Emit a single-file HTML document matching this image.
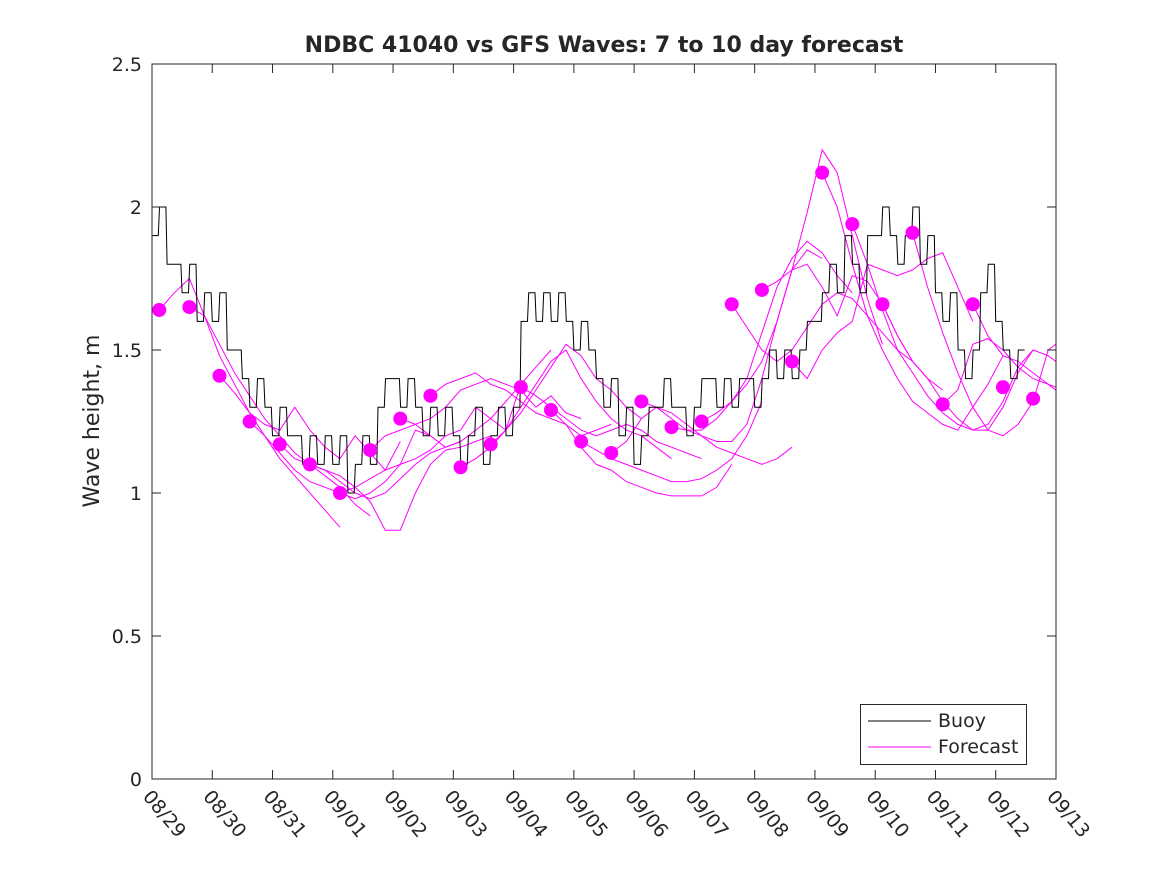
<!DOCTYPE html>
<html><head><meta charset="utf-8"><style>
body{margin:0;background:#fff;}
svg text{font-family:"DejaVu Sans","Liberation Sans",sans-serif;fill:#262626;}
</style></head><body>
<svg id="chart" width="1167" height="875" viewBox="0 0 1167 875" xmlns="http://www.w3.org/2000/svg">
<rect x="0" y="0" width="1167" height="875" fill="#fff"/>
<text x="604" y="52" text-anchor="middle" font-size="22" font-weight="bold" fill="#000">NDBC 41040 vs GFS Waves: 7 to 10 day forecast</text>
<text transform="translate(99,421) rotate(-90)" text-anchor="middle" font-size="22">Wave height, m</text>
<defs><clipPath id="plotclip"><rect x="152" y="64" width="904" height="715"/></clipPath></defs>
<g id="forecasts" clip-path="url(#plotclip)"></g>
<g id="buoy" clip-path="url(#plotclip)"></g>
<g id="dots"></g>
<rect x="152" y="64" width="904" height="715" fill="none" stroke="#262626" stroke-width="1"/>
<g id="axes"></g>
<g>
<rect x="860.5" y="704.5" width="166" height="60" fill="#fff" stroke="#262626"/>
<line x1="868" y1="721" x2="931" y2="721" stroke="#000"/>
<text x="938" y="727" font-size="19">Buoy</text>
<line x1="868" y1="747" x2="931" y2="747" stroke="#ff00ff"/>
<text x="938" y="753" font-size="19">Forecast</text>
</g>
</svg>
<script>
const xTickLabels=["08/29","08/30","08/31","09/01","09/02","09/03","09/04","09/05","09/06","09/07","09/08","09/09","09/10","09/11","09/12","09/13"];
const yTickValues=[0,0.5,1,1.5,2,2.5];
const yTickLabels=["0","0.5","1","1.5","2","2.5"];
// buoy: 3-hourly from 08/29 00Z
const buoyValues=[
1.9,2.0,1.8,1.8,1.7,1.8,1.6,1.7,
1.6,1.7,1.5,1.5,1.4,1.3,1.4,1.3,
1.2,1.3,1.2,1.2,1.1,1.2,1.1,1.2,
1.1,1.2,1.0,1.1,1.2,1.1,1.3,1.4,
1.4,1.3,1.4,1.3,1.2,1.3,1.2,1.3,
1.2,1.1,1.2,1.3,1.1,1.2,1.3,1.2,
1.3,1.6,1.7,1.6,1.7,1.6,1.7,1.6,
1.5,1.6,1.5,1.4,1.3,1.4,1.2,1.3,
1.1,1.2,1.3,1.3,1.4,1.3,1.3,1.2,
1.3,1.4,1.4,1.3,1.4,1.3,1.4,1.4,
1.3,1.4,1.5,1.4,1.5,1.4,1.5,1.6,
1.6,1.7,1.8,1.7,1.9,1.8,1.7,1.9,
1.9,2.0,1.9,1.8,1.9,2.0,1.8,1.9,
1.7,1.6,1.7,1.5,1.4,1.5,1.7,1.8,
1.6,1.5,1.4,1.5];
const dotDays=[0.12,0.62,1.12,1.62,2.12,2.62,3.12,3.62,4.12,4.62,5.12,5.62,6.12,6.62,7.12,7.62,8.12,8.62,9.12,9.62,10.12,10.62,11.12,11.62,12.12,12.62,13.12,13.62,14.12,14.62];
const dotValues=[1.64,1.65,1.41,1.25,1.17,1.10,1.00,1.15,1.26,1.34,1.09,1.17,1.37,1.29,1.18,1.14,1.32,1.23,1.25,1.66,1.71,1.46,2.12,1.94,1.66,1.91,1.31,1.66,1.37,1.33];
const fcStart=[0.12,0.62,1.12,1.62,2.12,2.62,3.12,3.62,4.12,4.62,5.12,5.62,6.12,6.62,7.12,7.62,8.12,8.62,9.12,9.62,10.12,10.62,11.12,11.62,12.12,12.62,13.12,13.62];
const fc1=[1.64,1.70,1.75,1.62,1.48,1.38,1.28,1.20,1.12,1.06,1.00,0.94,0.88];
const fc2=[1.65,1.62,1.52,1.42,1.34,1.26,1.20,1.14,1.10,1.06,1.02,0.96,0.92];
const fc3=[1.41,1.35,1.28,1.24,1.22,1.30,1.22,1.16,1.12,1.20,1.14,1.08,1.18];
const fc4=[1.25,1.20,1.14,1.08,1.04,1.02,1.00,0.98,1.00,1.04,1.10,1.22,1.20];
const fc5=[1.17,1.12,1.10,1.08,1.04,1.00,0.98,1.00,1.05,1.10,1.14,1.16,1.18];
const fc6=[1.10,1.08,1.06,1.02,0.97,0.87,0.87,1.00,1.10,1.15,1.16,1.18,1.20];
const fc7=[1.00,1.02,1.05,1.08,1.10,1.12,1.15,1.20,1.22,1.30,1.26,1.22,1.38];
const fc8=[1.15,1.20,1.22,1.24,1.20,1.16,1.18,1.22,1.26,1.32,1.38,1.44,1.50];
const fc9=[1.26,1.24,1.26,1.30,1.36,1.38,1.40,1.38,1.36,1.30,1.34,1.28,1.26];
const fc10=[1.34,1.38,1.40,1.42,1.38,1.36,1.32,1.28,1.26,1.24,1.20,1.22,1.24];
const fc11=[1.09,1.12,1.16,1.22,1.28,1.36,1.44,1.52,1.48,1.40,1.36,1.30,1.26];
const fc12=[1.17,1.22,1.30,1.38,1.46,1.50,1.40,1.32,1.26,1.22,1.20,1.16,1.12];
const fc13=[1.37,1.34,1.30,1.26,1.22,1.20,1.22,1.24,1.22,1.18,1.16,1.14,1.12];
const fc14=[1.29,1.24,1.16,1.10,1.08,1.04,1.02,1.00,0.99,0.99,0.99,1.02,1.10];
const fc15=[1.18,1.15,1.12,1.10,1.08,1.06,1.04,1.04,1.05,1.08,1.12,1.20,1.32];
const fc16=[1.14,1.18,1.26,1.30,1.28,1.24,1.20,1.16,1.14,1.12,1.10,1.12,1.16];
const fc17=[1.32,1.30,1.26,1.22,1.20,1.18,1.18,1.24,1.40,1.60,1.78,1.85,1.82];
const fc18=[1.23,1.22,1.22,1.26,1.32,1.40,1.56,1.72,1.82,1.88,1.84,1.76,1.70];
const fc19=[1.25,1.28,1.32,1.38,1.46,1.60,1.78,1.98,2.20,2.12,1.90,1.68,1.52];
const fc20=[1.66,1.58,1.50,1.46,1.50,1.58,1.66,1.70,1.68,1.62,1.56,1.50,1.46];
const fc21=[1.71,1.74,1.78,1.80,1.72,1.62,1.76,1.74,1.66,1.55,1.46,1.40,1.36];
const fc22=[1.46,1.40,1.50,1.56,1.60,1.80,1.78,1.76,1.78,1.82,1.84,1.72,1.60];
const fc23=[2.12,2.00,1.80,1.62,1.50,1.40,1.32,1.28,1.24,1.22,1.30,1.38,1.48];
const fc24=[1.94,1.80,1.64,1.50,1.42,1.34,1.28,1.24,1.22,1.24,1.32,1.44,1.50];
const fc25=[1.66,1.55,1.46,1.40,1.32,1.26,1.22,1.22,1.30,1.42,1.50,1.48,1.44];
const fc26=[1.91,1.72,1.56,1.42,1.30,1.22,1.20,1.24,1.32,1.50,1.54,1.56,1.58];
const fc27=[1.31,1.36,1.52,1.54,1.50,1.44,1.40,1.38,1.36,1.34,1.32,1.30,1.28];
const fc28=[1.66,1.55,1.48,1.46,1.42,1.38,1.34,1.30,1.26,1.24,1.22,1.20,1.18];
const fcSeries=[fc1,fc2,fc3,fc4,fc5,fc6,fc7,fc8,fc9,fc10,fc11,fc12,fc13,fc14,fc15,fc16,fc17,fc18,fc19,fc20,fc21,fc22,fc23,fc24,fc25,fc26,fc27,fc28];

const NS="http://www.w3.org/2000/svg";
const X0=152,X1=1056,Y0=779,Y1=64;
function xs(d){return X0+(X1-X0)*d/15;}
function ys(v){return Y0-(Y0-Y1)*v/2.5;}
function mk(tag,attrs,parent){const e=document.createElementNS(NS,tag);for(const k in attrs)e.setAttribute(k,attrs[k]);parent.appendChild(e);return e;}

const axes=document.getElementById('axes');
xTickLabels.forEach((lab,i)=>{
  const x=xs(i);
  const t1=mk('line',{x1:x,y1:Y0,x2:x,y2:Y0-9,stroke:'#262626'},axes);
  
  
  const t2=mk('line',{x1:x,y1:Y1,x2:x,y2:Y1+9,stroke:'#262626'},axes);
  
  
  const tx=mk('text',{x:0,y:0,'font-size':19,transform:`translate(${x-10},${Y0+18}) rotate(50)`},axes);
  tx.textContent=lab;
  
  
});
yTickValues.forEach((v,i)=>{
  const y=ys(v);
  const t1=mk('line',{x1:X0,y1:y,x2:X0+9,y2:y,stroke:'#262626'},axes);
  
  
  const t2=mk('line',{x1:X1,y1:y,x2:X1-9,y2:y,stroke:'#262626'},axes);
  
  
  const tx=mk('text',{x:X0-10,y:y+7,'font-size':19,'text-anchor':'end'},axes);
  tx.textContent=yTickLabels[i];
  
  
});

const fg=document.getElementById('forecasts');
fcSeries.forEach((s,k)=>{
  const pts=s.map((v,j)=>xs(fcStart[k]+j*0.25).toFixed(1)+','+ys(v).toFixed(1)).join(' ');
  const pl=mk('polyline',{points:pts,fill:'none',stroke:'#ff00ff','stroke-width':1},fg);
  
  
});

const bg=document.getElementById('buoy');
let bp=[];
buoyValues.forEach((v,i)=>{
  const d0=i*0.125,d1=(i+1)*0.125;
  bp.push(xs(d0).toFixed(1)+','+ys(v).toFixed(1));
  bp.push(xs(d1-0.02).toFixed(1)+','+ys(v).toFixed(1));
});
const bl=mk('polyline',{points:bp.join(' '),fill:'none',stroke:'#000','stroke-width':1},bg);



const dg=document.getElementById('dots');
dotDays.forEach((d,i)=>{
  const c=mk('circle',{cx:xs(d),cy:ys(dotValues[i]),r:7,fill:'#ff00ff'},dg);
  
  
});
</script>
</body></html>
